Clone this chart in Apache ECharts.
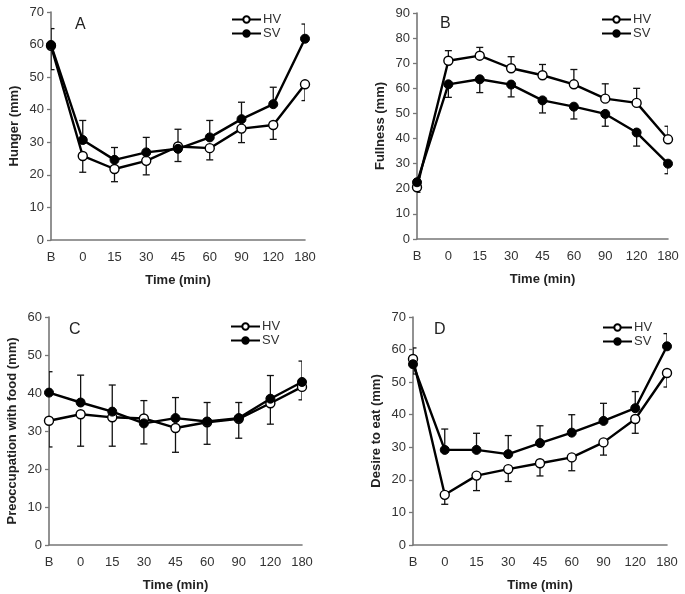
<!DOCTYPE html>
<html>
<head>
<meta charset="utf-8">
<script src="https://cdn.jsdelivr.net/npm/echarts@6/dist/echarts.min.js"></script>
<style>html,body{margin:0;padding:0;background:#fff}#c{width:685px;height:594px}</style>
</head>
<body>
<div id="c"></div>
<script>
const categories = ['B', '0', '15', '30', '45', '60', '90', '120', '180'];

const hungerHV = [59.6, 25.8, 21.8, 24.3, 28.7, 28.2, 34.2, 35.3, 47.8];
const hungerSV = [59.9, 30.7, 24.6, 26.9, 28.0, 31.5, 37.1, 41.7, 61.8];
const hungerHVErr = [-7.3, -5.0, -3.9, -4.3, -4.6, -3.6, -4.3, -4.4, -5.0];
const hungerSVErr = [5.0, 6.0, 3.8, 4.6, 6.0, 5.2, 5.2, 5.2, 4.5];

const fullnessHV = [20.6, 71.0, 73.0, 68.0, 65.2, 61.6, 55.9, 54.2, 39.7];
const fullnessSV = [22.6, 61.6, 63.6, 61.5, 55.2, 52.7, 49.8, 42.4, 30.0];
const fullnessHVErr = [-2.0, 4.0, 3.3, 4.6, 4.3, 5.9, 5.9, 5.8, 5.2];
const fullnessSVErr = [2.0, -5.2, -5.3, -4.9, -5.0, -4.9, -4.9, -5.4, -4.0];

const preoccHV = [32.7, 34.4, 33.6, 33.3, 30.8, 32.3, 33.2, 37.3, 41.6];
const preoccSV = [40.1, 37.5, 35.1, 32.0, 33.4, 32.5, 33.4, 38.5, 42.9];
const preoccHVErr = [-6.9, -8.4, -7.6, 4.7, -6.4, -5.8, -5.1, -5.5, -3.4];
const preoccSVErr = [5.5, 7.2, 7.0, -5.4, 5.4, 5.0, 4.1, 6.1, 5.5];

const desireHV = [57.1, 15.4, 21.3, 23.3, 25.1, 26.9, 31.5, 38.7, 52.8];
const desireSV = [55.5, 29.2, 29.2, 27.9, 31.3, 34.5, 38.1, 42.0, 61.0];
const desireHVErr = [3.4, -2.9, -4.6, -3.8, -3.9, -4.1, -3.9, -4.4, -4.3];
const desireSVErr = [-3.0, 6.4, 5.1, 5.7, 5.3, 5.5, 5.4, 5.1, 3.9];

const panels = [
  { letter: 'A', yName: 'Hunger (mm)', max: 70, hv: hungerHV, sv: hungerSV, hvErr: hungerHVErr, svErr: hungerSVErr,
    grid: { left: 51, top: 12, width: 254, height: 228 }, legend: { left: 226, top: 8 }, letterPos: { left: 70, top: 12 } },
  { letter: 'B', yName: 'Fullness (mm)', max: 90, hv: fullnessHV, sv: fullnessSV, hvErr: fullnessHVErr, svErr: fullnessSVErr,
    grid: { left: 417, top: 13, width: 251, height: 226 }, legend: { left: 596, top: 8 }, letterPos: { left: 435, top: 11 } },
  { letter: 'C', yName: 'Preoccupation with food (mm)', max: 60, hv: preoccHV, sv: preoccSV, hvErr: preoccHVErr, svErr: preoccSVErr,
    grid: { left: 49, top: 317, width: 253, height: 228 }, legend: { left: 225, top: 315 }, letterPos: { left: 64, top: 317 } },
  { letter: 'D', yName: 'Desire to eat (mm)', max: 70, hv: desireHV, sv: desireSV, hvErr: desireHVErr, svErr: desireSVErr,
    grid: { left: 413, top: 317, width: 254, height: 228 }, legend: { left: 597, top: 316 }, letterPos: { left: 429, top: 317 } }
];

const font = 'Liberation Sans, Arial, sans-serif';
const labelColor = '#333';
const axisColor = '#777';

function errRender(params, api) {
  const x = api.value(0), y = api.value(1), e = api.value(2);
  const p0 = api.coord([x, y]);
  const p1 = api.coord([x, y + e]);
  const hw = 3.5;
  const st = { stroke: '#111', lineWidth: 1.3 };
  return {
    type: 'group',
    children: [
      { type: 'line', shape: { x1: p0[0], y1: p0[1], x2: p1[0], y2: p1[1] }, style: st },
      { type: 'line', shape: { x1: p1[0] - hw, y1: p1[1], x2: p1[0] + hw, y2: p1[1] }, style: st }
    ]
  };
}

const option = {
  animation: false,
  backgroundColor: '#fff',
  textStyle: { fontFamily: font },
  grid: [], xAxis: [], yAxis: [], series: [], legend: [], title: []
};

panels.forEach((p, i) => {
  option.grid.push(Object.assign({ containLabel: false }, p.grid));
  option.xAxis.push({
    type: 'category', gridIndex: i, data: categories, boundaryGap: false,
    name: 'Time (min)', nameLocation: 'middle', nameGap: 34,
    nameTextStyle: { fontFamily: font, fontWeight: 'bold', fontSize: 13, color: '#222' },
    axisLine: { lineStyle: { color: axisColor, width: 1.6 } },
    axisTick: { show: false },
    axisLabel: { fontFamily: font, fontSize: 13, color: labelColor, margin: 11, interval: 0 },
    splitLine: { show: false }
  });
  option.yAxis.push({
    type: 'value', gridIndex: i, min: 0, max: p.max, interval: 10,
    name: p.yName, nameLocation: 'middle', nameGap: 30,
    nameTextStyle: { fontFamily: font, fontWeight: 'bold', fontSize: 13, color: '#222' },
    axisLine: { show: true, lineStyle: { color: axisColor, width: 1.6 } },
    axisTick: { show: true, length: 4, lineStyle: { color: axisColor, width: 1.3 } },
    axisLabel: { fontFamily: font, fontSize: 13, color: labelColor, margin: 7 },
    splitLine: { show: false }
  });
  option.series.push({
    type: 'custom', name: 'HVerr', xAxisIndex: i, yAxisIndex: i, z: 1, clip: true,
    renderItem: errRender, encode: { x: 0, y: 1 },
    data: p.hv.map((v, k) => [k, v, p.hvErr[k]])
  });
  option.series.push({
    type: 'custom', name: 'SVerr', xAxisIndex: i, yAxisIndex: i, z: 1, clip: true,
    renderItem: errRender, encode: { x: 0, y: 1 },
    data: p.sv.map((v, k) => [k, v, p.svErr[k]])
  });
  option.series.push({
    type: 'line', name: 'HV', xAxisIndex: i, yAxisIndex: i, z: 3,
    data: p.hv, symbol: 'circle', symbolSize: 9,
    lineStyle: { color: '#000', width: 2.4 },
    itemStyle: { color: '#fff', borderColor: '#000', borderWidth: 1.4 }
  });
  option.series.push({
    type: 'line', name: 'SV', xAxisIndex: i, yAxisIndex: i, z: 4,
    data: p.sv, symbol: 'circle', symbolSize: 9,
    lineStyle: { color: '#000', width: 2.4 },
    itemStyle: { color: '#000', borderColor: '#000', borderWidth: 1 }
  });
  option.legend.push({
    data: ['HV', 'SV'], orient: 'vertical', left: p.legend.left, top: p.legend.top,
    itemWidth: 29, itemHeight: 8, itemGap: 1, selectedMode: false,
    textStyle: { fontFamily: font, fontSize: 13, color: '#333', padding: [0, 0, 0, -3] }
  });
  option.title.push({
    text: p.letter, left: p.letterPos.left, top: p.letterPos.top,
    textStyle: { fontFamily: font, fontSize: 16, fontWeight: 'normal', color: '#222' }
  });
});

const chart = echarts.init(document.getElementById('c'), null, { renderer: 'canvas' });
chart.setOption(option);
</script>
</body>
</html>
